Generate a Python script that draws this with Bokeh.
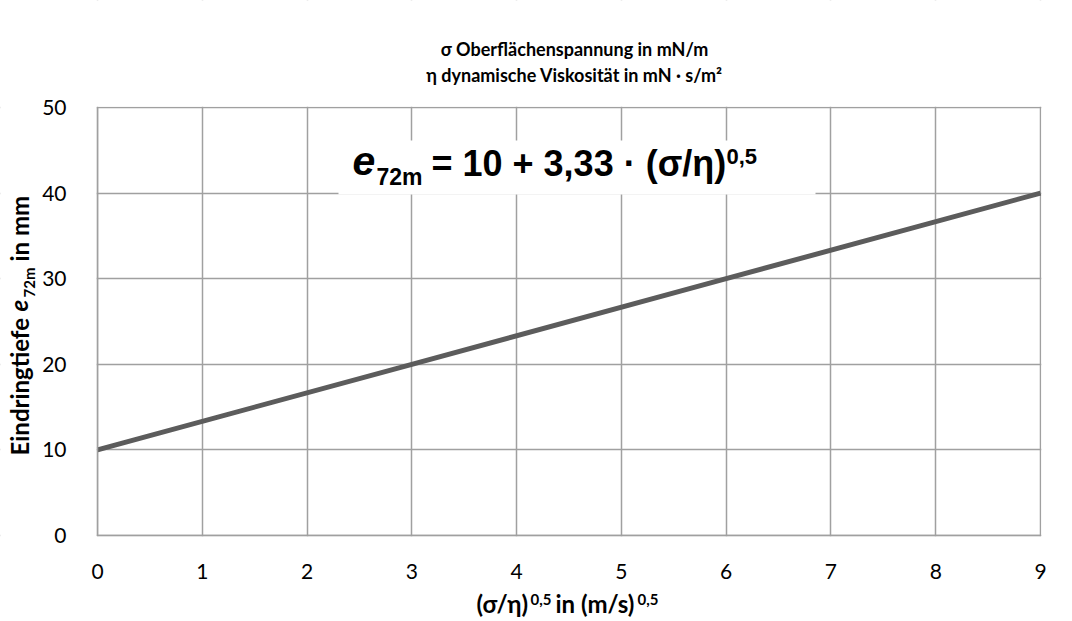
from bokeh.plotting import figure
from bokeh.models import Range1d, FixedTicker, Label, BoxAnnotation
from bokeh.embed import file_html
from bokeh.resources import INLINE
import math

# ---- data ----
x_vals = [0, 3, 6, 9]
y_vals = [10, 20, 30, 40]
x_ticks = [0, 1, 2, 3, 4, 5, 6, 7, 8, 9]
y_ticks = [0, 10, 20, 30, 40, 50]
title_1 = "σ Oberflächenspannung in mN/m"
title_2 = "η dynamische Viskosität in mN · s/m²"

FONT = "Lato"
GRID = "#a0a0a0"

W, H = 1064, 619
# plot-area geometry (px)
FL, FR, FT, FB = 97, 1040, 107, 535
XMIN, XMAX, YMIN, YMAX = 0, 9, 0, 50

def dx(px):
    return XMIN + (px - FL) / (FR - FL) * (XMAX - XMIN)

def dy(py):
    return YMIN + (FB - py) / (FB - FT) * (YMAX - YMIN)

p = figure(width=W, height=H, output_backend="svg", toolbar_location=None,
           x_range=Range1d(dx(0), dx(W)), y_range=Range1d(dy(H), dy(0)),
           min_border=0)
p.background_fill_color = "white"
p.border_fill_color = "white"
p.outline_line_color = None

for ax in (p.xaxis, p.yaxis):
    ax.axis_line_color = GRID
    ax.axis_line_width = 1.5
    ax.major_tick_line_color = None
    ax.minor_tick_line_color = None
    ax.major_label_text_font = FONT
    ax.major_label_text_font_size = "21px"
    ax.major_label_text_color = "#000000"
p.xaxis.fixed_location = 0
p.yaxis.fixed_location = 0
p.xaxis.bounds = (XMIN, XMAX)
p.yaxis.bounds = (YMIN, YMAX)
p.xaxis.ticker = FixedTicker(ticks=x_ticks)
p.yaxis.ticker = FixedTicker(ticks=y_ticks)
p.xaxis.major_label_standoff = 22
p.yaxis.major_label_standoff = 25

p.grid.grid_line_color = GRID
p.grid.grid_line_width = 1.5
p.xgrid.ticker = FixedTicker(ticks=x_ticks)
p.ygrid.ticker = FixedTicker(ticks=y_ticks)

# white masks so that grid lines stay inside the plot area
x0, x1 = p.x_range.start, p.x_range.end
y0, y1 = p.y_range.start, p.y_range.end
m = 0.8
for l, r, b, t in [(x0, dx(FL - m), y0, y1), (dx(FR + m), x1, y0, y1),
                   (x0, x1, dy(FT - m), y1), (x0, x1, y0, dy(FB + m))]:
    p.add_layout(BoxAnnotation(left=l, right=r, bottom=b, top=t, level="underlay",
                               fill_color="white", fill_alpha=1.0, line_color=None))

p.line(x_vals, y_vals, line_color="#5c5c5c", line_width=5)

# equation box
p.add_layout(BoxAnnotation(left=dx(338), right=dx(815), top=dy(140), bottom=dy(194),
                           fill_color="white", fill_alpha=1.0, line_color=None))

K = 0.42  # baseline correction (fraction of font size)

def lab(text, px, py, size, style="bold", font=FONT, align="left", baseline="alphabetic", angle=0.0):
    if baseline == "alphabetic":
        if angle == 0.0:
            py = py - K * size
        else:
            px = px - K * size
    p.add_layout(Label(x=dx(px), y=dy(py), text=text, text_font=font,
                       text_font_size=f"{size}px", text_font_style=style,
                       text_color="#000000", text_align=align,
                       text_baseline=baseline, angle=angle))

EQ = "Liberation Sans"
lab("e", 352, 178, 41, "bold italic", EQ)
lab("72m", 376, 186, 23, "bold", EQ)
lab("= 10 + 3,33 · (σ/η)", 431, 178, 36, "bold", EQ)
lab("0,5", 726, 165, 22, "bold", EQ)

# titles
lab(title_1, 574, 48, 18, "bold", align="center", baseline="middle")
lab(title_2, 574, 74, 18, "bold", align="center", baseline="middle")

# x axis label
lab("(σ/η)", 476, 613, 24, "bold")
lab("0,5", 530, 605, 15, "bold")
lab("in (m/s)", 555, 613, 24, "bold")
lab("0,5", 637, 605, 15, "bold")

# y axis label (rotated)
a = math.pi / 2
lab("Eindringtiefe", 29, 455, 24, "bold", angle=a)
lab("e", 29, 311, 24, "bold italic", angle=a)
lab("72m", 35, 297, 15, "bold", angle=a)
lab("in mm", 29, 261, 24, "bold", angle=a)

open("out.html", "w").write(file_html(p, INLINE))
